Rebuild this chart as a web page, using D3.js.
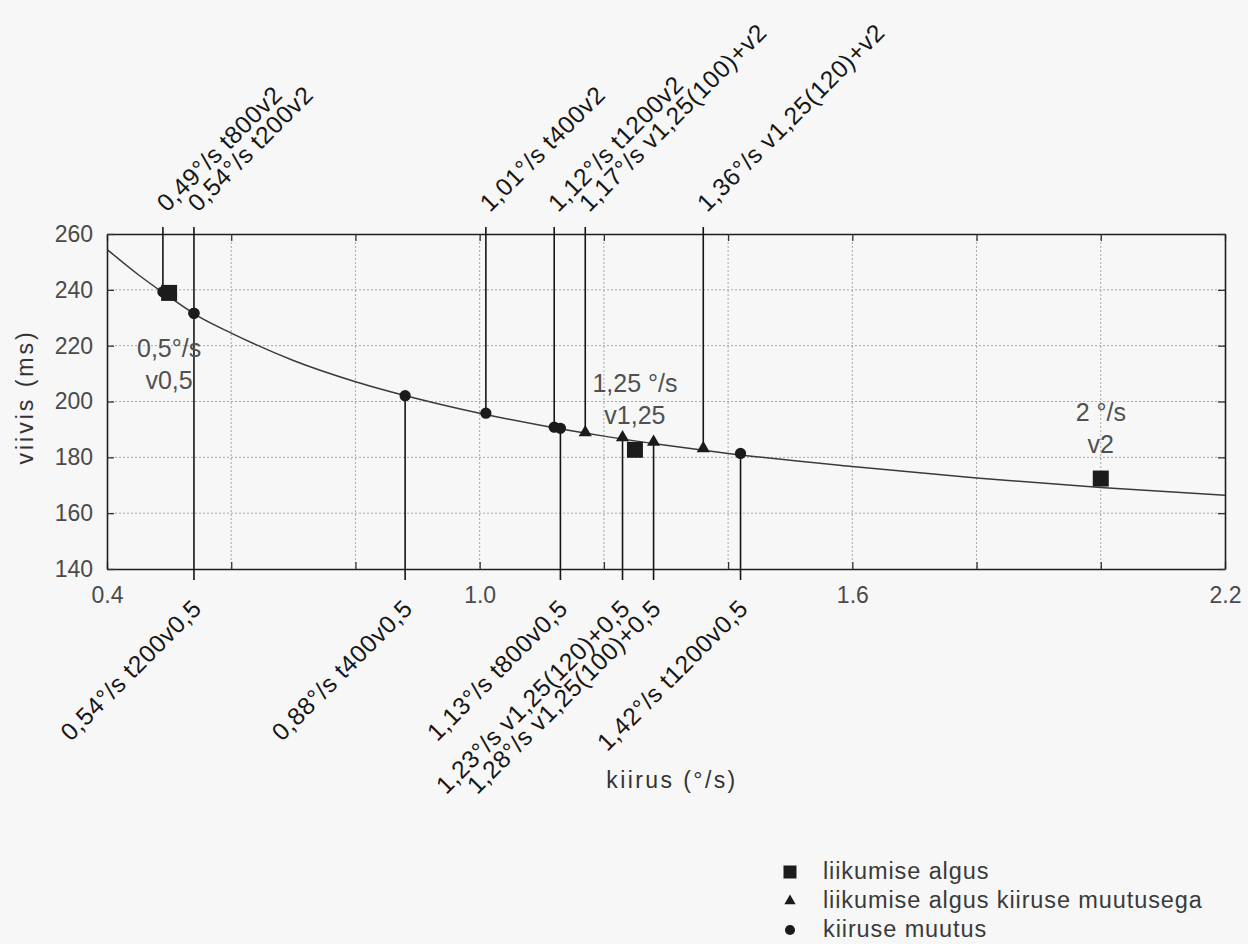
<!DOCTYPE html>
<html>
<head>
<meta charset="utf-8">
<script src="https://cdn.jsdelivr.net/npm/d3@7"></script>
<style>
  html, body { margin: 0; padding: 0; background: #f7f7f7; }
  svg { display: block; font-family: "Liberation Sans", Arial, sans-serif; }
</style>
</head>
<body>
<svg id="chart" width="1248" height="944"></svg>
<script>
// Fitted delay curve: reaction delay (ms) against target speed (°/s)
const curveSpeed = [0.40, 0.45, 0.50, 0.55, 0.60, 0.70, 0.80, 0.90, 1.00, 1.10, 1.20, 1.30, 1.40, 1.60, 1.80, 2.00, 2.20];
const curveDelay = [254.5, 245.5, 237.5, 230.1, 224.5, 214.7, 207.1, 201.0, 195.8, 191.4, 187.6, 184.3, 181.4, 176.7, 172.6, 169.2, 166.4];

// Motion onset (squares)
const onsetSpeed = [0.5, 1.25, 2.0];
const onsetDelay = [238.9, 182.7, 172.4];
const onsetLabel = [["0,5°/s", "v0,5"], ["1,25 °/s", "v1,25"], ["2 °/s", "v2"]];

// Motion onset with a speed change (triangles)
const onsetChangeSpeed = [1.17, 1.23, 1.28, 1.36];
const onsetChangeDelay = [188.9, 187.1, 185.5, 183.2];
const onsetChangeLabel = ["1,17°/s v1,25(100)+v2", "1,23°/s v1,25(120)+0,5", "1,28°/s v1,25(100)+0,5", "1,36°/s v1,25(120)+v2"];

// Speed change (circles)
const changeSpeed = [0.49, 0.54, 0.54, 0.88, 1.01, 1.12, 1.13, 1.42];
const changeDelay = [239.3, 231.6, 231.6, 202.1, 195.8, 190.8, 190.4, 181.4];
const changeLabel = ["0,49°/s t800v2", "0,54°/s t200v2", "0,54°/s t200v0,5", "0,88°/s t400v0,5", "1,01°/s t400v2", "1,12°/s t1200v2", "1,13°/s t800v0,5", "1,42°/s t1200v0,5"];

// Axes
const xTicks = [0.4, 0.6, 0.8, 1.0, 1.2, 1.4, 1.6, 1.8, 2.0, 2.2];
const xTickLabels = ["0.4", "", "", "1.0", "", "", "1.6", "", "", "2.2"];
const yTicks = [140, 160, 180, 200, 220, 240, 260];
const xTitle = "kiirus (°/s)";
const yTitle = "viivis (ms)";
const legendLabels = ["liikumise algus", "liikumise algus kiiruse muutusega", "kiiruse muutus"];

const svg = d3.select("#chart");
const plot = { left: 107, right: 1225, top: 234, bottom: 569 };

const x = d3.scaleLinear().domain([0.4, 2.2]).range([plot.left, plot.right]);
const y = d3.scaleLinear().domain([140, 260]).range([plot.bottom, plot.top]);

svg.append("rect").attr("width", 1248).attr("height", 944).attr("fill", "#f7f7f7");

// Dotted grid
const grid = svg.append("g").attr("stroke", "#a8a8a8").attr("stroke-width", 1).attr("stroke-dasharray", "2,2");
grid.selectAll("line.gx").data(xTicks.slice(1, -1)).join("line")
  .attr("x1", d => x(d)).attr("x2", d => x(d)).attr("y1", plot.top).attr("y2", plot.bottom);
grid.selectAll("line.gy").data(yTicks.slice(1, -1)).join("line")
  .attr("x1", plot.left).attr("x2", plot.right).attr("y1", d => y(d)).attr("y2", d => y(d));

// Axes with inward ticks on all four sides
const tickLen = 7;
const axB = svg.append("g").attr("transform", `translate(0,${plot.bottom})`)
  .call(d3.axisBottom(x).tickValues(xTicks).tickSizeInner(-tickLen).tickSizeOuter(0).tickPadding(18)
    .tickFormat((d, i) => xTickLabels[i]));
const axT = svg.append("g").attr("transform", `translate(0,${plot.top})`)
  .call(d3.axisTop(x).tickValues(xTicks).tickSizeInner(-tickLen).tickSizeOuter(0).tickFormat(""));
const axL = svg.append("g").attr("transform", `translate(${plot.left},0)`)
  .call(d3.axisLeft(y).tickValues(yTicks).tickSizeInner(-tickLen).tickSizeOuter(0).tickPadding(14)
    .tickFormat(d3.format("d")));
const axR = svg.append("g").attr("transform", `translate(${plot.right},0)`)
  .call(d3.axisRight(y).tickValues(yTicks).tickSizeInner(-tickLen).tickSizeOuter(0).tickFormat(""));
[axB, axT, axL, axR].forEach(g => {
  g.selectAll("path.domain").attr("stroke", "#1e1e1e").attr("stroke-width", 1.6);
  g.selectAll(".tick line").attr("stroke", "#333").attr("stroke-width", 1.3);
  g.selectAll(".tick text").attr("fill", "#4a4a4a").style("font-size", "23px")
    .style("font-family", '"Liberation Sans", Arial, sans-serif');
});

// Curve
const line = d3.line().x(d => x(d[0])).y(d => y(d[1])).curve(d3.curveMonotoneX);
svg.append("path")
  .datum(curveSpeed.map((s, i) => [s, curveDelay[i]]))
  .attr("d", line).attr("fill", "none").attr("stroke", "#3a3a3a").attr("stroke-width", 1.5);

// Annotated points: labels ending in v2 go above the frame, the others below
const annotated = [
  ...changeSpeed.map((s, i) => ({ s, d: changeDelay[i], label: changeLabel[i] })),
  ...onsetChangeSpeed.map((s, i) => ({ s, d: onsetChangeDelay[i], label: onsetChangeLabel[i] }))
].map(p => ({ ...p, up: /v2$/.test(p.label) }));

const ann = svg.append("g");
ann.selectAll("line").data(annotated).join("line")
  .attr("x1", d => x(d.s)).attr("x2", d => x(d.s))
  .attr("y1", d => y(d.d))
  .attr("y2", d => d.up ? plot.top - 7 : plot.bottom + 11)
  .attr("stroke", "#151515").attr("stroke-width", 1.6);

ann.selectAll("text").data(annotated).join("text")
  .attr("transform", d => d.up
    ? `translate(${x(d.s) + 4},${plot.top - 21}) rotate(-45)`
    : `translate(${x(d.s) + 9},${plot.bottom + 41}) rotate(-45)`)
  .attr("text-anchor", d => d.up ? "start" : "end")
  .attr("fill", "#161616")
  .style("font-size", "24.5px")
  .style("letter-spacing", "0.6px")
  .text(d => d.label);

// Markers
const sym = (type, size) => d3.symbol().type(type).size(size)();
const marks = svg.append("g").attr("fill", "#1b1b1b");
marks.selectAll("path.c").data(changeSpeed.map((s, i) => [s, changeDelay[i]])).join("path")
  .attr("transform", d => `translate(${x(d[0])},${y(d[1])})`)
  .attr("d", sym(d3.symbolCircle, 100));
marks.selectAll("path.t").data(onsetChangeSpeed.map((s, i) => [s, onsetChangeDelay[i]])).join("path")
  .attr("transform", d => `translate(${x(d[0])},${y(d[1])})`)
  .attr("d", sym(d3.symbolTriangle, 75));
marks.selectAll("path.s").data(onsetSpeed.map((s, i) => [s, onsetDelay[i]])).join("path")
  .attr("transform", d => `translate(${x(d[0])},${y(d[1])})`)
  .attr("d", sym(d3.symbolSquare, 256));

// Square labels (two lines, centred on the marker)
const sqLab = svg.append("g").attr("fill", "#505050").attr("text-anchor", "middle")
  .style("font-size", "25px");
onsetSpeed.forEach((s, i) => {
  const px = x(s), py = y(onsetDelay[i]);
  const below = py < 320;
  const b1 = below ? py + 64 : py - 58;
  sqLab.append("text").attr("x", px).attr("y", b1).text(onsetLabel[i][0]);
  sqLab.append("text").attr("x", px).attr("y", b1 + 32).text(onsetLabel[i][1]);
});

// Axis titles
svg.append("text").attr("x", 672).attr("y", 788).attr("text-anchor", "middle")
  .attr("fill", "#333").style("font-size", "23px").style("letter-spacing", "2.4px").text(xTitle);
svg.append("text").attr("transform", "translate(33,397) rotate(-90)").attr("text-anchor", "middle")
  .attr("fill", "#333").style("font-size", "23px").style("letter-spacing", "3px").text(yTitle);

// Legend
const legend = svg.append("g");
const legendSymbols = [[d3.symbolSquare, 169], [d3.symbolTriangle, 55], [d3.symbolCircle, 80]];
legendLabels.forEach((t, i) => {
  const cy = 872 + i * 29;
  legend.append("path").attr("transform", `translate(790,${cy})`)
    .attr("d", sym(legendSymbols[i][0], legendSymbols[i][1])).attr("fill", "#1b1b1b");
  legend.append("text").attr("x", 823).attr("y", cy + 7).attr("fill", "#3a3a3a")
    .style("font-size", "23.5px").style("letter-spacing", "0.9px").text(t);
});
</script>
</body>
</html>
